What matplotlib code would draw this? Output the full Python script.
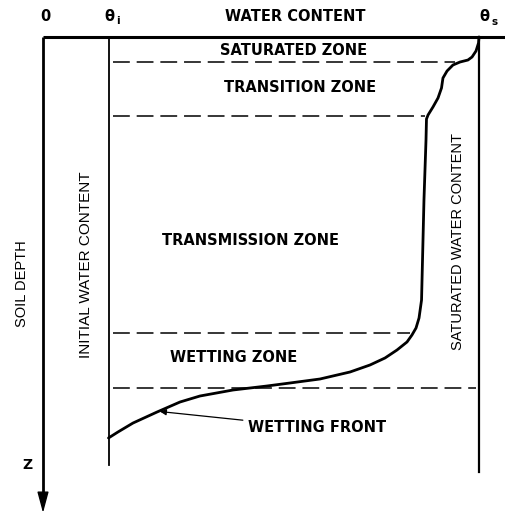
import matplotlib

matplotlib.use("Agg")
import matplotlib.pyplot as plt

# water content (theta) and soil depth (z, 0 at the surface, 1 at bottom of the sketch)
THETA_I = 0.068
THETA_S = 0.45

moisture_theta = [
    0.4500, 0.4495, 0.4469, 0.4428, 0.4386, 0.4304, 0.4231, 0.4170, 0.4128,
    0.4113, 0.4077, 0.4025, 0.3974, 0.3958, 0.3953, 0.3932, 0.3917, 0.3907,
    0.3881, 0.3850, 0.3808, 0.3757, 0.3654, 0.3530, 0.3375, 0.3169, 0.2859,
    0.2549, 0.2312, 0.1961, 0.1620, 0.1414, 0.1177, 0.0929, 0.0774, 0.0676,
]
moisture_depth = [
    0.0000, 0.0138, 0.0322, 0.0460, 0.0529, 0.0575, 0.0644, 0.0782, 0.0943,
    0.1172, 0.1402, 0.1609, 0.1793, 0.1885, 0.2368, 0.3747, 0.5126, 0.6046,
    0.6460, 0.6690, 0.6851, 0.7011, 0.7195, 0.7379, 0.7540, 0.7701, 0.7862,
    0.7954, 0.8023, 0.8115, 0.8253, 0.8391, 0.8621, 0.8874, 0.9080, 0.9218,
]

zone_bounds = [0.058, 0.182, 0.680, 0.807]
zone_bound_ends = [0.425, 0.394, 0.379, 0.447]

zone_names = ["SATURATED ZONE", "TRANSITION ZONE", "TRANSMISSION ZONE", "WETTING ZONE"]
zone_label_theta = [0.259, 0.265, 0.214, 0.197]
zone_label_depth = [0.030, 0.117, 0.467, 0.736]

W, H = 506, 515
fig = plt.figure(figsize=(W / 100, H / 100), dpi=100)
# axes spans theta 0..THETA_S and depth 0..1
ax = fig.add_axes([43 / W, (H - 472) / H, 436 / W, 435 / H])
ax.set_xlim(0, THETA_S)
ax.set_ylim(1, 0)
ax.axis("off")

bold = dict(family="DejaVu Sans", fontweight="bold", fontsize=10.5, color="black")
plain = dict(family="Liberation Sans", fontsize=10.5, color="black")

# surface line and depth axis
ax.plot([0, 0.478], [0, 0], color="black", lw=2.2, clip_on=False, solid_capstyle="butt")
ax.plot([0, 0], [0, 1.07], color="black", lw=2.0, clip_on=False, solid_capstyle="butt")
ax.annotate("", xy=(0, 1.094), xytext=(0, 1.06), xycoords="data",
            arrowprops=dict(arrowstyle="-|>,head_length=1.3,head_width=0.35", color="black",
                            lw=1.0, mutation_scale=10, shrinkA=0, shrinkB=0),
            annotation_clip=False)

# initial and saturated water content lines
ax.plot([THETA_I, THETA_I], [0, 0.984], color="black", lw=1.3, clip_on=False)
ax.plot([THETA_S, THETA_S], [0, 1.0], color="black", lw=1.6, clip_on=False)

# zone boundaries
for z, end in zip(zone_bounds, zone_bound_ends):
    ax.plot([0.072, end], [z, z], color="black", lw=1.1, dashes=(11, 4.5), clip_on=False)

# moisture profile
ax.plot(moisture_theta, moisture_depth, color="black", lw=2.0, clip_on=False,
        solid_joinstyle="round", solid_capstyle="round")

for name, x, y in zip(zone_names, zone_label_theta, zone_label_depth):
    ax.text(x, y, name, ha="center", va="center", **bold)

ax.annotate("WETTING FRONT", xy=(0.1207, 0.8610), xytext=(0.212, 0.8988),
            ha="left", va="center", **bold,
            arrowprops=dict(arrowstyle="-|>", color="black", lw=0.9,
                            mutation_scale=9, shrinkA=2, shrinkB=0),
            annotation_clip=False)

# top labels
ax.text(0.002, -0.046, "0", ha="center", va="center", **bold)
ax.text(THETA_I, -0.046, "θ", ha="center", va="center", **bold)
ax.text(THETA_I + 0.009, -0.036, "i", ha="center", va="center", family="DejaVu Sans",
        fontweight="bold", fontsize=7.5)
ax.text(0.260, -0.046, "WATER CONTENT", ha="center", va="center", **bold)
ax.text(THETA_S + 0.0055, -0.046, "θ", ha="center", va="center", **bold)
ax.text(THETA_S + 0.0165, -0.034, "s", ha="center", va="center", family="DejaVu Sans",
        fontweight="bold", fontsize=7.5)

# vertical labels
ax.text(0.0444, 0.524, "INITIAL WATER CONTENT", rotation=90, ha="center", va="center",
        family="Liberation Sans", fontsize=11, color="black")
ax.text(0.428, 0.471, "SATURATED WATER CONTENT", rotation=90, ha="center", va="center", **plain)
ax.text(-0.0216, 0.566, "SOIL DEPTH", rotation=90, ha="center", va="center", **plain)
ax.text(-0.0165, 0.984, "Z", ha="center", va="center", family="DejaVu Sans",
        fontweight="bold", fontsize=10, color="black")

fig.savefig("out.png", dpi=100)
